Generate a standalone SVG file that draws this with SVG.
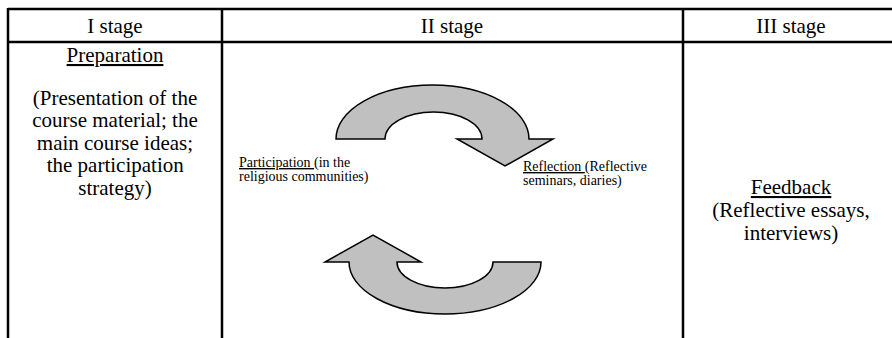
<svg xmlns="http://www.w3.org/2000/svg" width="892" height="338" viewBox="0 0 892 338">
<style>
.grid{stroke:#000;stroke-width:2.5;fill:none}
.arr{fill:#c0c0c0;stroke:#000;stroke-width:1.5;stroke-linejoin:miter}
</style>
<rect width="892" height="338" fill="#fff"/>
<g id="table">
<line class="grid" x1="8" y1="9" x2="892" y2="9"/>
<line class="grid" x1="8" y1="42" x2="892" y2="42"/>
<line class="grid" x1="8" y1="8" x2="8" y2="338"/>
<line class="grid" x1="222" y1="8" x2="222" y2="338"/>
<line class="grid" x1="683" y1="8" x2="683" y2="338"/>
</g>
<g id="stage1">
<text x="87.3" y="33" font-size="21" font-family="Liberation Serif" style="font-family:'Liberation Serif',serif">I stage</text>
<text x="66.6" y="62" font-size="21" font-family="Liberation Serif" style="font-family:'Liberation Serif',serif" text-decoration="underline">Preparation</text>
<text x="32.8" y="105" font-size="21" font-family="Liberation Serif" style="font-family:'Liberation Serif',serif">(Presentation of the</text>
<text x="32.2" y="127" font-size="21" font-family="Liberation Serif" style="font-family:'Liberation Serif',serif">course material; the</text>
<text x="36.8" y="150" font-size="21" font-family="Liberation Serif" style="font-family:'Liberation Serif',serif">main course ideas;</text>
<text x="46.7" y="172" font-size="21" font-family="Liberation Serif" style="font-family:'Liberation Serif',serif">the participation</text>
<text x="78.3" y="195" font-size="21" font-family="Liberation Serif" style="font-family:'Liberation Serif',serif">strategy)</text>
</g>
<g id="stage2">
<text x="420.8" y="33" font-size="21" font-family="Liberation Serif" style="font-family:'Liberation Serif',serif">II stage</text>
</g>
<g id="stage3">
<text x="756.3" y="33" font-size="21" font-family="Liberation Serif" style="font-family:'Liberation Serif',serif">III stage</text>
<text x="750.8" y="194" font-size="21" font-family="Liberation Serif" style="font-family:'Liberation Serif',serif" text-decoration="underline">Feedback</text>
<text x="712.3" y="217" font-size="21" font-family="Liberation Serif" style="font-family:'Liberation Serif',serif">(Reflective essays,</text>
<text x="743.8" y="240" font-size="21" font-family="Liberation Serif" style="font-family:'Liberation Serif',serif">interviews)</text>
</g>
<g id="participation">
<text x="239" y="167" font-size="14" font-family="Liberation Serif" style="font-family:'Liberation Serif',serif"><tspan text-decoration="underline">Participation </tspan>(in the</text>
<text x="239" y="181" font-size="14" font-family="Liberation Serif" style="font-family:'Liberation Serif',serif">religious communities)</text>
</g>
<g id="reflection">
<text x="523" y="171" font-size="14" font-family="Liberation Serif" style="font-family:'Liberation Serif',serif"><tspan text-decoration="underline">Reflection </tspan>(Reflective</text>
<text x="523" y="185" font-size="14" font-family="Liberation Serif" style="font-family:'Liberation Serif',serif">seminars, diaries)</text>
</g>
<g id="connectors">
<path class="arr" d="M336,139 A96.5,54 0 0 1 529,139 L553,139 L505,166 L457,139 L482,139 A48.5,27 0 0 0 385,139 Z"/>
<path class="arr" d="M541,262 A96,52 0 0 1 349,262 L325,262 L373,235 L421,262 L397,262 A48,26 0 0 0 493,262 Z"/>
</g>
</svg>
